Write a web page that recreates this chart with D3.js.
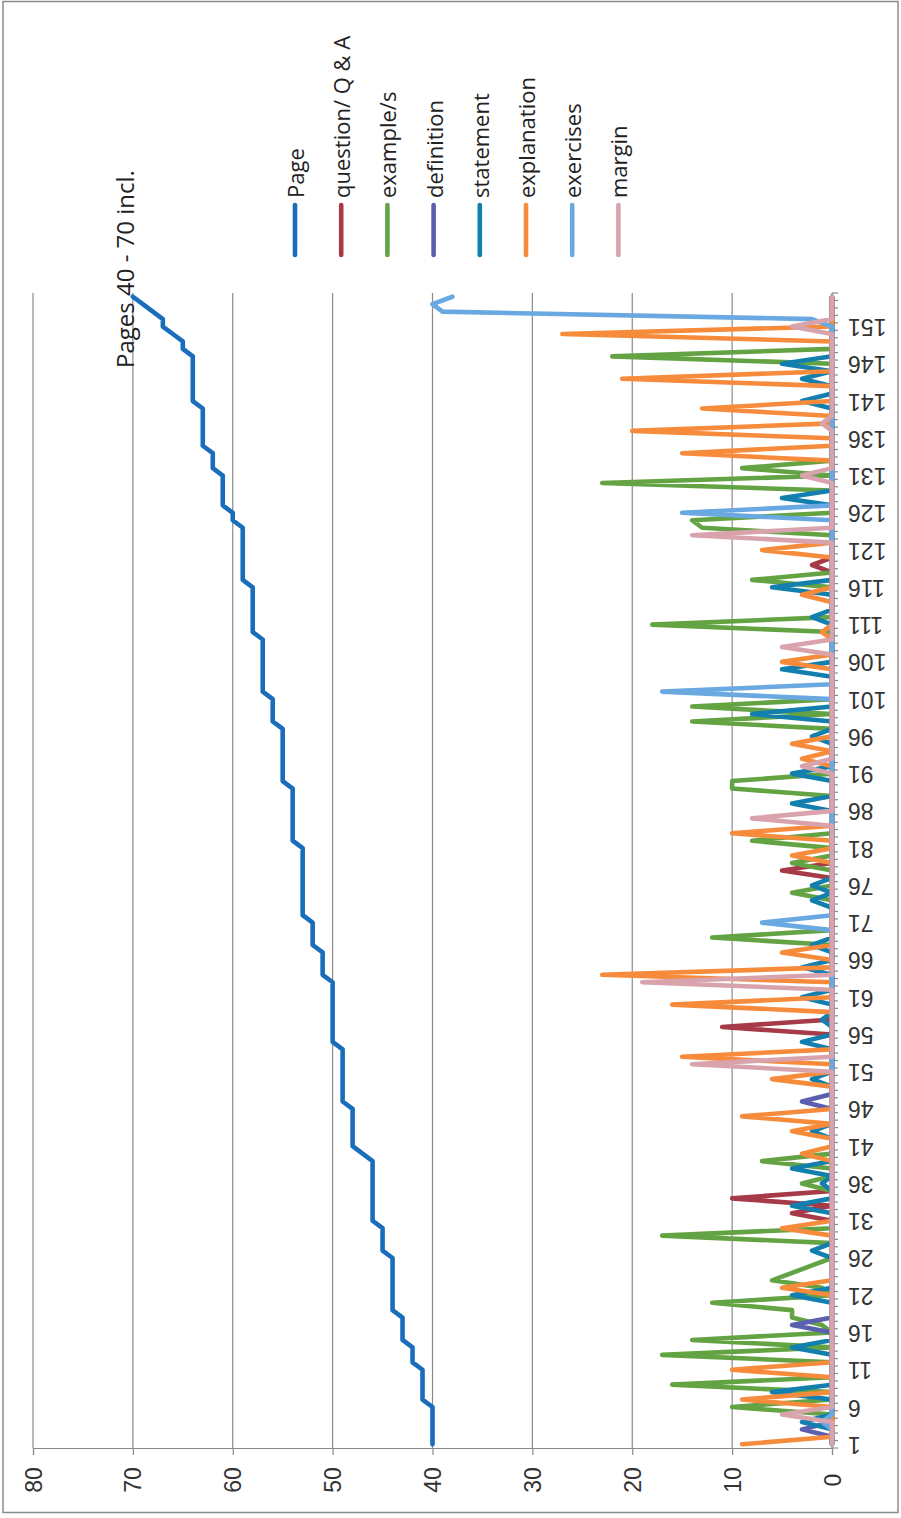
<!DOCTYPE html>
<html>
<head>
<meta charset="utf-8">
<script src="https://cdn.jsdelivr.net/npm/d3@7/dist/d3.min.js"></script>
<style>
  html, body { margin: 0; padding: 0; background: #fff; }
  svg { display: block; font-family: "Open Sans", "Noto Sans", sans-serif; }
</style>
</head>
<body>
<svg id="chart" width="901" height="1518"></svg>
<script>
// ── Data (category index 1..155) ─────────────────────────────────────────
const categories = d3.range(1, 156);
const tickLabels = [1, 6, 11, 16, 21, 26, 31, 36, 41, 46, 51, 56, 61, 66, 71, 76,
                    81, 86, 91, 96, 101, 106, 111, 116, 121, 126, 131, 136, 141, 146, 151];
const valueTicks = [0, 10, 20, 30, 40, 50, 60, 70, 80];

const page = [
  40,40,40,40,40,40,41,41,41,41,
  41,42,42,42,43,43,43,43,44,44,
  44,44,44,44,44,44,45,45,45,45,
  46,46,46,46,46,46,46,46,46,47,
  48,48,48,48,48,48,49,49,49,49,
  49,49,49,49,50,50,50,50,50,50,
  50,50,50,51,51,51,51,52,52,52,
  52,53,53,53,53,53,53,53,53,53,
  53,54,54,54,54,54,54,54,54,55,
  55,55,55,55,55,55,55,56,56,56,
  56,57,57,57,57,57,57,57,57,58,
  58,58,58,58,58,58,59,59,59,59,
  59,59,59,59,60,60,61,61,61,61,
  61,62,62,62,63,63,63,63,63,63,
  64,64,64,64,64,64,64,65,65,66,
  67,67,68,69,70];

const question = [
  0,0,0,0,0,0,0,0,0,0,
  0,0,0,0,0,0,0,0,0,0,
  0,0,0,0,0,0,0,0,0,0,
  0,4,0,10,0,0,0,0,0,0,
  0,0,0,0,0,0,0,0,0,0,
  0,0,0,0,0,0,11,0,0,0,
  0,0,0,0,0,0,0,0,0,0,
  0,0,0,0,0,0,0,5,0,0,
  0,0,0,0,0,0,0,0,0,0,
  0,0,0,0,0,0,0,0,0,0,
  0,0,0,0,0,0,0,0,0,0,
  0,0,0,0,0,0,0,0,2,0,
  0,0,0,0,0,0,0,0,0,0,
  0,0,0,0,0,0,0,0,0,0,
  0,0,0,0,0,0,0,0,0,0,
  0,0,0,0,0];

const example = [
  0,0,0,0,0,10,0,0,16,0,
  0,0,17,0,14,0,1,4,4,12,
  0,1,6,4,2,0,0,0,17,0,
  0,0,0,0,0,3,0,0,7,0,
  0,0,0,0,0,0,0,0,0,0,
  0,0,0,0,0,0,0,0,0,0,
  0,0,0,0,0,0,0,0,12,0,
  0,0,0,0,4,0,0,0,4,0,
  0,8,0,0,0,0,0,0,10,10,
  0,0,0,0,0,0,0,14,0,14,
  0,0,0,0,0,0,0,0,0,0,
  18,0,0,0,0,0,8,0,0,0,
  0,0,0,13,14,0,0,0,0,23,
  0,9,0,0,0,0,0,0,0,0,
  0,0,0,0,0,0,22,0,0,0,
  0,0,0,0,0];

const definition = [
  0,0,3,0,0,0,0,0,0,0,
  0,0,0,0,0,0,4,0,0,0,
  0,0,0,0,0,0,0,0,0,0,
  0,0,0,0,0,0,0,0,0,0,
  0,0,0,0,0,0,3,0,0,0,
  0,0,0,0,0,0,0,0,0,0,
  0,0,0,0,0,0,0,0,0,0,
  0,0,0,0,0,0,0,0,0,0,
  0,0,0,0,0,0,0,0,0,0,
  0,0,0,0,0,0,0,0,0,0,
  0,0,0,0,0,0,0,0,0,0,
  0,0,0,0,0,0,0,0,0,0,
  0,0,0,0,0,0,0,0,0,0,
  0,0,0,0,0,0,0,0,0,0,
  0,0,0,0,0,0,0,0,0,0,
  0,0,0,0,0];

const statement = [
  0,0,0,3,0,0,0,6,0,0,
  0,0,0,4,0,0,0,0,0,0,
  4,0,0,0,0,0,2,0,0,0,
  0,0,4,0,0,1,0,4,0,0,
  0,0,2,0,0,0,0,0,0,2,
  0,0,0,0,3,0,0,1,0,0,
  3,0,0,0,3,0,0,2,0,0,
  0,0,0,2,0,2,0,0,0,0,
  0,0,0,0,0,0,4,0,0,0,
  4,0,0,0,0,2,0,0,8,0,
  0,0,0,0,5,0,0,0,0,0,
  0,2,0,0,0,6,0,0,0,0,
  0,0,0,0,0,0,0,5,0,0,
  0,0,0,0,0,0,0,0,0,0,
  3,0,0,3,0,5,0,0,0,0,
  0,0,0,0,0];

const explanation = [
  9,0,0,0,0,0,9,0,0,0,
  10,0,0,0,0,0,0,0,0,0,
  0,5,0,0,0,0,0,0,0,5,
  0,0,0,0,0,0,0,0,0,3,
  0,0,4,0,9,0,0,0,0,6,
  0,0,15,0,0,0,0,0,0,16,
  0,0,0,23,0,0,5,0,0,0,
  0,0,0,0,0,0,0,0,0,4,
  0,0,10,0,0,0,0,0,0,0,
  0,0,3,0,4,0,0,0,0,0,
  0,0,0,0,0,5,0,0,0,1,
  0,0,0,0,3,0,0,0,0,0,
  7,0,0,0,0,0,0,0,0,0,
  0,0,0,15,0,0,20,0,0,13,
  0,0,0,21,0,0,0,0,0,27,
  0,0,0,0,0];

const exercises = [
  0,0,0,1,0,0,0,0,0,0,
  0,0,0,0,0,0,0,0,0,0,
  0,0,0,0,0,0,0,0,0,0,
  0,0,0,0,0,0,0,0,0,0,
  0,0,0,0,0,0,0,0,0,0,
  0,0,0,0,0,0,0,0,0,0,
  0,0,0,0,0,0,0,0,0,0,
  7,0,0,0,0,0,0,0,0,0,
  0,0,0,0,0,0,0,0,0,0,
  0,0,0,0,0,0,0,0,0,0,
  0,17,0,0,0,0,0,0,0,0,
  0,0,0,0,0,0,0,0,0,0,
  0,0,0,0,0,15,0,0,0,0,
  0,0,0,0,0,0,0,0,0,0,
  0,0,0,0,0,0,0,0,0,0,
  0,2,39,40,38];

const margin = [
  0,0,0,0,5,0,0,0,0,0,
  0,0,0,0,0,0,0,0,0,0,
  0,0,0,0,0,0,0,0,0,0,
  0,0,0,0,0,0,0,0,0,0,
  0,0,0,0,0,0,0,0,0,0,
  0,14,0,0,0,0,0,0,0,0,
  0,0,19,0,0,0,0,0,0,0,
  0,0,0,0,0,0,0,0,0,0,
  0,0,0,0,8,0,0,0,0,0,
  0,3,0,0,0,0,0,0,0,0,
  0,0,0,0,0,0,0,5,0,0,
  0,0,0,0,0,0,0,0,0,0,
  0,0,14,0,0,0,0,0,0,0,
  3,0,0,0,0,0,0,1,0,0,
  0,0,0,0,0,0,0,0,0,0,
  4,0,0,0,0];

const seriesNames  = ['Page', 'question/ Q & A', 'example/s', 'definition',
                      'statement', 'explanation', 'exercises', 'margin'];
const seriesValues = [page, question, example, definition,
                      statement, explanation, exercises, margin];
const seriesColors = ['#1a6dbb', '#a63a48', '#63a343', '#5a5fb0',
                      '#137fae', '#f78b3c', '#6aa8e2', '#d9a3ad'];

// ── Layout (chart is drawn turned a quarter turn: values run right→left) ──
const plot = { left: 33, right: 832, top: 293, bottom: 1448 };
const svg = d3.select('#chart');
const GRID = '#8a8a8a';

svg.append('rect')
  .attr('x', 3).attr('y', 1.5).attr('width', 895).attr('height', 1511)
  .attr('fill', 'none').attr('stroke', '#8c8c8c').attr('stroke-width', 1.5);

const x = d3.scaleLinear().domain([0, 80]).range([plot.right, plot.left]);
const y = d3.scalePoint().domain(categories).range([plot.bottom, plot.top]).padding(0.5);
const step = y.step();

// gridlines
svg.append('g').selectAll('line').data(valueTicks.filter(v => v > 0)).join('line')
  .attr('x1', d => x(d)).attr('x2', d => x(d))
  .attr('y1', plot.top).attr('y2', plot.bottom)
  .attr('stroke', GRID).attr('stroke-width', 1.2);

// value axis (along the bottom)
const xAxis = svg.append('g')
  .attr('transform', `translate(0,${plot.bottom})`)
  .call(d3.axisBottom(x).tickValues(valueTicks).tickSize(7).tickFormat(d3.format('d')));
xAxis.select('.domain').attr('stroke', GRID).attr('stroke-width', 1.2);
xAxis.selectAll('.tick line').attr('stroke', GRID).attr('stroke-width', 1.2);
xAxis.selectAll('.tick text')
  .attr('y', 0).attr('dy', null)
  .attr('transform', 'translate(0,32) rotate(-90)')
  .attr('text-anchor', 'middle').attr('dominant-baseline', 'central')
  .attr('font-size', 23).attr('fill', '#333').attr('font-family', null);

// category axis (along the right)
const yAxis = svg.append('g')
  .attr('transform', `translate(${plot.right},0)`)
  .call(d3.axisRight(y).tickValues(tickLabels).tickSize(0));
yAxis.select('.domain').remove();
yAxis.selectAll('.tick text')
  .attr('x', 0).attr('dy', null)
  .attr('transform', 'translate(16,0) rotate(180)')
  .attr('text-anchor', 'end').attr('dominant-baseline', 'central')
  .attr('font-size', 23).attr('fill', '#333').attr('font-family', null);

// minor ticks between categories
const bounds = categories.map(c => y(c) + step / 2).concat([y(categories[categories.length - 1]) - step / 2]);
svg.append('g').selectAll('line').data(bounds).join('line')
  .attr('x1', plot.right).attr('x2', plot.right + 6)
  .attr('y1', d => d).attr('y2', d => d)
  .attr('stroke', GRID).attr('stroke-width', 1.2);

svg.append('line')
  .attr('x1', plot.right).attr('x2', plot.right)
  .attr('y1', plot.top).attr('y2', plot.bottom)
  .attr('stroke', GRID).attr('stroke-width', 1.2);

// ── Series ────────────────────────────────────────────────────────────────
const line = d3.line()
  .x(d => x(d))
  .y((d, i) => y(categories[i]));

svg.append('g').selectAll('path').data(seriesValues).join('path')
  .attr('d', d => line(d))
  .attr('fill', 'none')
  .attr('stroke', (d, i) => seriesColors[i])
  .attr('stroke-width', 4.6)
  .attr('stroke-linejoin', 'round')
  .attr('stroke-linecap', 'round');

// ── Legend ────────────────────────────────────────────────────────────────
const legend = svg.append('g').selectAll('g').data(seriesNames).join('g')
  .attr('transform', (d, i) => `translate(${295 + i * 46.2},0)`);
legend.append('line')
  .attr('y1', 205).attr('y2', 255)
  .attr('stroke', (d, i) => seriesColors[i])
  .attr('stroke-width', 4.6).attr('stroke-linecap', 'round');
legend.append('text')
  .attr('transform', 'translate(0,198) rotate(-90)')
  .attr('text-anchor', 'start').attr('dominant-baseline', 'central')
  .attr('font-size', 22).attr('fill', '#222')
  .text(d => d);

// annotation
svg.append('text')
  .attr('transform', 'translate(124,368) rotate(-90)')
  .attr('text-anchor', 'start').attr('dominant-baseline', 'central')
  .attr('font-size', 24).attr('fill', '#222')
  .text('Pages 40 - 70 incl.');
</script>
</body>
</html>
